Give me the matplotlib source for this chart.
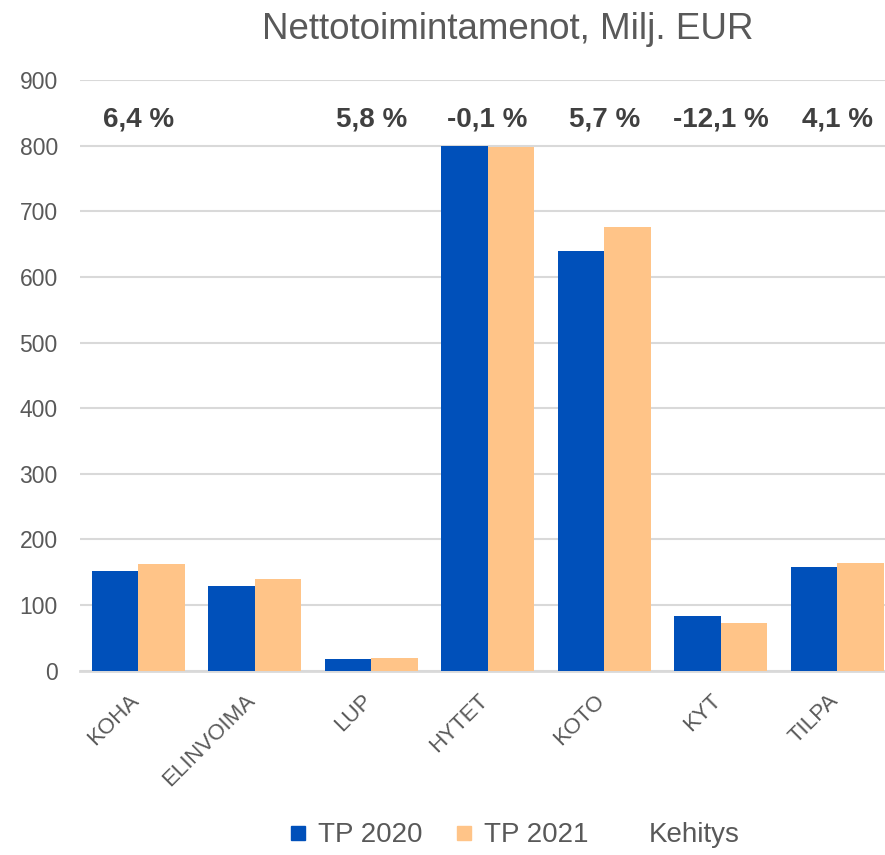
import numpy as np
import matplotlib
matplotlib.use("Agg")
import matplotlib.pyplot as plt
import matplotlib.transforms as mtransforms
from matplotlib.lines import Line2D

plt.rcParams['font.family'] = ['Liberation Sans', 'DejaVu Sans']

categories = ['KOHA', 'ELINVOIMA', 'LUP', 'HYTET', 'KOTO', 'KYT', 'TILPA']
tp2020 = [152, 129, 18.5, 799, 640, 83, 158]
tp2021 = [162, 139, 19.6, 798, 676, 73, 164.5]
kehitys = ['6,4 %', '', '5,8 %', '-0,1 %', '5,7 %', '-12,1 %', '4,1 %']

blue = '#0050BA'
orange = '#FFC488'
gray = '#595959'
grid = '#D9D9D9'

fig = plt.figure(figsize=(8.85, 8.55), dpi=100)
ax = fig.add_axes([0.0904, 0.2156, 0.9213, 0.6907])

x = np.arange(len(categories))
w = 0.4
ax.bar(x - w / 2, tp2020, w, color=blue, zorder=3)
ax.bar(x + w / 2, tp2021, w, color=orange, zorder=3)

# Kehitys labels across the top
for xi, lab in zip(x, kehitys):
    ax.text(xi, 840, lab, ha='center', va='center', fontsize=20,
            fontweight='bold', color='#404040')

ax.set_xlim(-0.5, len(categories) - 0.5)
ax.set_ylim(0, 900)
ax.set_yticks(range(0, 901, 100))
ax.yaxis.grid(True, color=grid, linewidth=1.5, zorder=0)
ax.set_axisbelow(True)
for s in ['top', 'right', 'left']:
    ax.spines[s].set_visible(False)
ax.spines['bottom'].set_color(grid)
ax.spines['bottom'].set_linewidth(2)
ax.tick_params(axis='y', length=0, pad=16, labelsize=16.5, labelcolor=gray)
ax.tick_params(axis='x', length=0, pad=12, labelsize=16, labelcolor=gray)
ax.set_xticks(x)
ax.set_xticklabels(categories, rotation=45, ha='right', rotation_mode='anchor')
shift = mtransforms.ScaledTranslation(-7 / 72, -2 / 72, fig.dpi_scale_trans)
for lab in ax.get_xticklabels():
    lab.set_transform(lab.get_transform() + shift)

fig.text(0.574, 0.965, 'Nettotoimintamenot, Milj. EUR', ha='center', va='center',
         fontsize=26.5, color=gray)

handles = [
    Line2D([], [], marker='s', linestyle='none', markersize=10, color=blue),
    Line2D([], [], marker='s', linestyle='none', markersize=10, color=orange),
    Line2D([], [], linestyle='none', color='none'),
]
fig.legend(handles, ['TP 2020', 'TP 2021', 'Kehitys'], loc='center',
           bbox_to_anchor=(0.582, 0.023), ncol=3, frameon=False, fontsize=20,
           labelcolor=gray, handlelength=0.6, handletextpad=0.4, columnspacing=1.2)

fig.savefig('out.png', dpi=100)
